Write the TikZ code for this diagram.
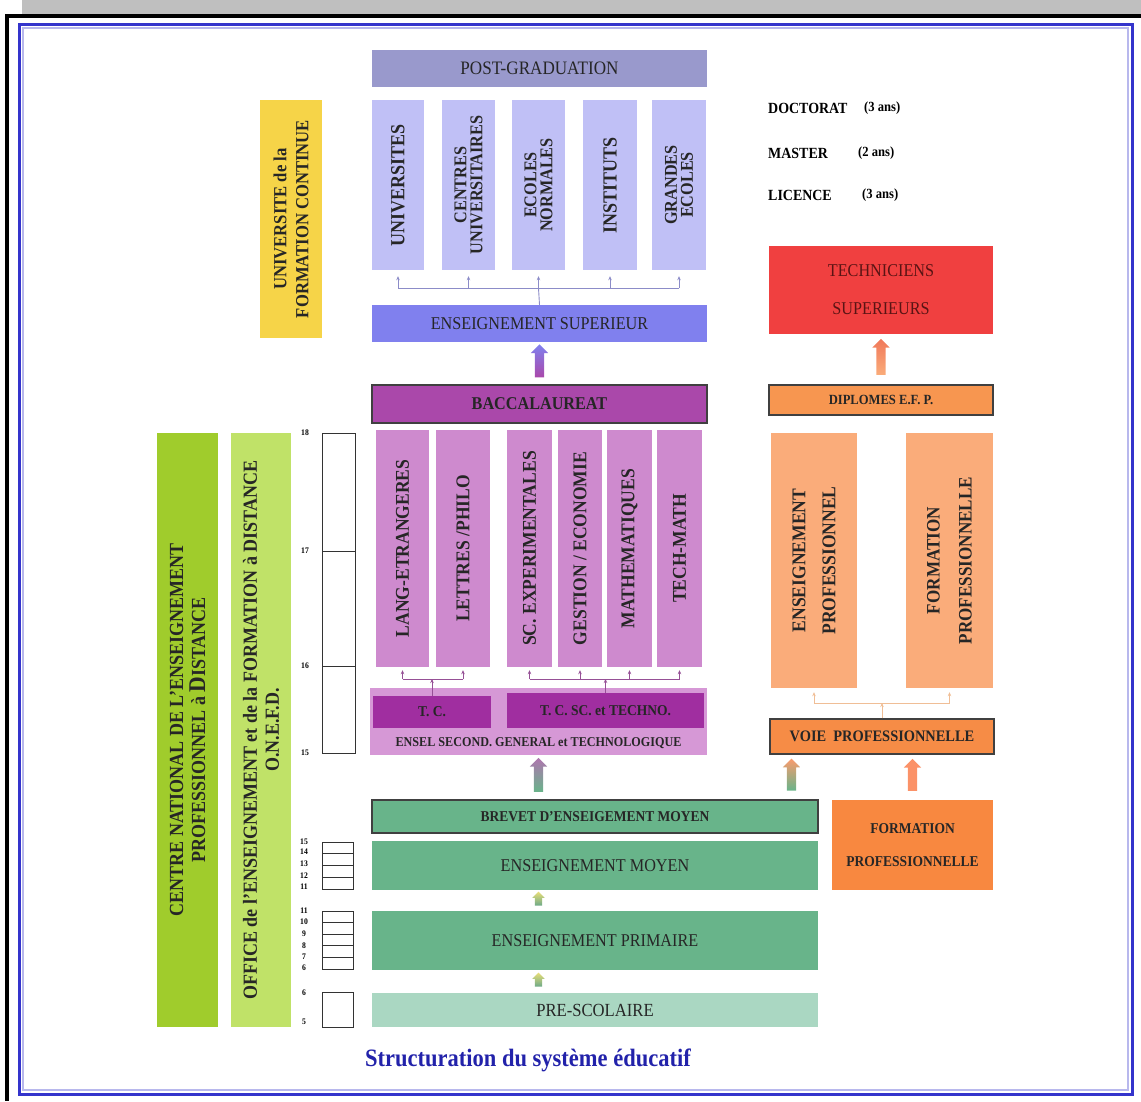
\documentclass[tikz,border=0pt]{standalone}
\usepackage{fontspec}
\setmainfont{Liberation Serif}[FakeStretch=0.9]
\usetikzlibrary{
  arrows.meta,
  calc,
  positioning,
  shapes.arrows
}
\definecolor{postg}{RGB}{153,153,204}
\definecolor{univ}{RGB}{192,192,246}
\definecolor{enssup}{RGB}{128,128,238}
\definecolor{jaune}{RGB}{246,212,72}
\definecolor{bac}{RGB}{170,72,170}
\definecolor{filiere}{RGB}{206,138,206}
\definecolor{ensel}{RGB}{214,152,214}
\definecolor{tronc}{RGB}{160,46,160}
\definecolor{rouge}{RGB}{240,64,64}
\definecolor{dipl}{RGB}{247,150,80}
\definecolor{profcol}{RGB}{250,172,122}
\definecolor{voie}{RGB}{246,140,70}
\definecolor{fprof}{RGB}{248,136,64}
\definecolor{vert}{RGB}{104,180,138}
\definecolor{vertclair}{RGB}{170,215,194}
\definecolor{centre}{RGB}{160,204,44}
\definecolor{office}{RGB}{192,226,104}
\definecolor{titre}{RGB}{34,34,170}
\definecolor{cadre}{RGB}{52,52,204}
\definecolor{lienbleu}{RGB}{140,140,200}
\definecolor{lienviolet}{RGB}{150,80,150}
\definecolor{lienorange}{RGB}{240,190,150}
\tikzset{
  bloc/.style={inner sep=0pt, align=center, text=black!85},
  boxed/.style={bloc, draw=black!75, line width=1.1pt},
  vbloc/.style={bloc, rotate=90},
  fleche/.style={single arrow, shape border rotate=90, inner sep=4.5pt,
    single arrow head extend=4pt, draw=none},
  petite/.style={fleche, inner sep=3.5pt, single arrow head extend=2.5pt, minimum height=14pt},
  lien/.style={-{Stealth[length=4pt,width=3.5pt]}, line width=0.9pt},
  agebox/.style={draw=black!80, line width=0.8pt},
  age/.style={font=\bfseries\fontsize{8.5}{8.5}\selectfont, inner sep=0pt},
  diplo/.style={font=\bfseries\fontsize{15.5}{15.5}\selectfont, inner sep=0pt, anchor=west}
}
\begin{document}
\begin{tikzpicture}[x=1pt, y=-1pt]
    \useasboundingbox (0,0) rectangle (1141,1101);

    % cadre
    \fill[black!25] (22,0) rectangle (1141,14);
    \draw[line width=3.5pt] (1141,16) -- (7,16) -- (7,1101);
    \draw[cadre!35, line width=2pt] (23,28) rectangle (1128,1090);
    \draw[cadre, line width=3pt] (19,24) rectangle (1132,1094);

    % enseignement superieur
    \node[bloc, fill=postg, minimum width=335pt, minimum height=37pt,
      font=\fontsize{19}{19}\selectfont] (postg) at (539.5,68.5) {POST-GRADUATION};
    \foreach \nom/\x/\w/\txt in {u1/398/52/{\fontsize{20}{20}\selectfont UNIVERSITES},
        u2/468.5/53/{CENTRES\\UNIVERSITAIRES},
        u3/538.5/53/{ECOLES\\NORMALES},
        u4/610/54/{\fontsize{20}{20}\selectfont INSTITUTS},
        u5/679/54/{GRANDES\\ECOLES}}
      \node[vbloc, fill=univ, minimum width=170pt, minimum height=\w pt,
        font=\bfseries\fontsize{18}{16}\selectfont] (\nom) at (\x,185) {\txt};
    \node[bloc, fill=enssup, minimum width=335pt, minimum height=37pt,
      font=\fontsize{18}{18}\selectfont] (sup) at (539.5,323.5) {ENSEIGNEMENT SUPERIEUR};
    \node[vbloc, fill=jaune, minimum width=238pt, minimum height=62pt,
      font=\bfseries\fontsize{18.5}{22}\selectfont] (ufc) at (291,219)
      {UNIVERSITE de la\\FORMATION CONTINUE};

    % liens vers les etablissements
    \coordinate (ubar) at (538.5,288);
    \draw[lienbleu, line width=0.9pt] (sup.north) -- (ubar);
    \draw[lienbleu, line width=0.9pt] (u1.west |- ubar) -- (u5.west |- ubar);
    \foreach \nom in {u1,u2,u3,u4,u5}
      \draw[lien, lienbleu, shorten >=6pt] (\nom.west |- ubar) -- (\nom.west);

    % diplomes
    \node[diplo] (doct) at (768,108) {DOCTORAT};
    \node[diplo, font=\bfseries\fontsize{14}{14}\selectfont] (doctd) at (864,108) {(3 ans)};
    \node[diplo] (mast) at (768,153) {MASTER};
    \node[diplo, font=\bfseries\fontsize{14}{14}\selectfont] (mastd) at (858,153) {(2 ans)};
    \node[diplo] (lic) at (768,195) {LICENCE};
    \node[diplo, font=\bfseries\fontsize{14}{14}\selectfont] (licd) at (862,195) {(3 ans)};

    % baccalaureat et filieres
    \node[boxed, fill=bac, minimum width=335pt, minimum height=38pt,
      font=\bfseries\fontsize{18}{18}\selectfont] (bac) at (539.5,404) {BACCALAUREAT};
    \path (bac.north) -- (sup.south) node[midway, fleche, minimum height=33pt,
      top color=enssup, bottom color=bac] (fsup) {};
    \foreach \nom/\x/\w/\txt in {lang/402.5/53/{LANG-ETRANGERES},
        lettres/463/54/{LETTRES /PHILO},
        scexp/529.5/45/{SC. EXPERIMENTALES},
        gestion/580/44/{GESTION / ECONOMIE},
        maths/629.5/45/{MATHEMATIQUES},
        techm/679.5/45/{TECH-MATH}}
      \node[vbloc, fill=filiere, minimum width=237pt, minimum height=\w pt,
        font=\bfseries\fontsize{19.5}{19.5}\selectfont] (\nom) at (\x,548.5) {\txt};

    % enseignement secondaire
    \node[bloc, fill=ensel, minimum width=337pt, minimum height=67pt] (ensel) at (538.5,721.5) {};
    \node[bloc, fill=tronc, minimum width=118pt, minimum height=32pt,
      font=\bfseries\fontsize{15}{15}\selectfont] (tc) at (432,712) {T. C.};
    \node[bloc, fill=tronc, minimum width=197pt, minimum height=35pt,
      font=\bfseries\fontsize{15}{15}\selectfont] (tcsc) at (605.5,710.5) {T. C. SC. et TECHNO.};
    \node[bloc, font=\bfseries\fontsize{13.5}{13.5}\selectfont] (enseltxt) at (538.5,743)
      {ENSEL SECOND. GENERAL et TECHNOLOGIQUE};

    % liens troncs communs
    \coordinate (lbar) at (432,679);
    \coordinate (rbar) at (605.5,679);
    \draw[lien, lienviolet] (tc.north) -- (lbar);
    \draw[lienviolet, line width=0.9pt] (lang.west |- lbar) -- (lettres.west |- lbar);
    \foreach \nom in {lang,lettres}
      \draw[lien, lienviolet, shorten >=3pt] (\nom.west |- lbar) -- (\nom.west);
    \draw[lien, lienviolet] (tcsc.north) -- (rbar);
    \draw[lienviolet, line width=0.9pt] (scexp.west |- rbar) -- (techm.west |- rbar);
    \foreach \nom in {scexp,gestion,maths,techm}
      \draw[lien, lienviolet, shorten >=3pt] (\nom.west |- rbar) -- (\nom.west);

    % voie professionnelle
    \node[bloc, fill=rouge, minimum width=224pt, minimum height=88pt, text={rgb,255:red,90;green,20;blue,20},
      font=\fontsize{18}{38}\selectfont] (tech) at (881,290) {TECHNICIENS\\SUPERIEURS};
    \node[boxed, fill=dipl, minimum width=224pt, minimum height=30pt,
      font=\bfseries\fontsize{14}{14}\selectfont] (dip) at (881,400) {DIPLOMES E.F. P.};
    \path (dip.north) -- (tech.south) node[midway, fleche, minimum height=36pt,
      top color={rgb,255:red,240;green,120;blue,90}, bottom color=profcol] (ftech) {};
    \node[vbloc, fill=profcol, minimum width=255pt, minimum height=86pt,
      font=\bfseries\fontsize{19.5}{30}\selectfont] (ep) at (814,560.5) {ENSEIGNEMENT\\PROFESSIONNEL};
    \node[vbloc, fill=profcol, minimum width=255pt, minimum height=87pt,
      font=\bfseries\fontsize{19}{32}\selectfont] (fp) at (949.5,560.5) {FORMATION\\PROFESSIONNELLE};
    \node[boxed, fill=voie, minimum width=224pt, minimum height=35pt,
      font=\bfseries\fontsize{16}{16}\selectfont] (voie) at (882,736.5) {VOIE\ \ PROFESSIONNELLE};
    \coordinate (obar) at (882,703);
    \draw[lien, lienorange] (voie.north) -- (obar);
    \draw[lienorange, line width=0.9pt] (ep.west |- obar) -- (fp.west |- obar);
    \foreach \nom in {ep,fp}
      \draw[lien, lienorange, shorten >=4pt] (\nom.west |- obar) -- (\nom.west);
    \node[bloc, fill=fprof, minimum width=161pt, minimum height=90pt,
      font=\bfseries\fontsize{15}{33}\selectfont] (fprof) at (912.5,845) {FORMATION\\PROFESSIONNELLE};

    % enseignement fondamental
    \node[boxed, fill=vert, minimum width=446pt, minimum height=33pt,
      font=\bfseries\fontsize{15}{15}\selectfont] (brevet) at (595,816.5) {BREVET D'ENSEIGEMENT MOYEN};
    \node[bloc, fill=vert, minimum width=446pt, minimum height=49pt,
      font=\fontsize{18}{18}\selectfont] (moyen) at (595,865.5) {ENSEIGNEMENT MOYEN};
    \node[bloc, fill=vert, minimum width=446pt, minimum height=59pt,
      font=\fontsize{18}{18}\selectfont] (prim) at (595,940.5) {ENSEIGNEMENT PRIMAIRE};
    \node[bloc, fill=vertclair, minimum width=446pt, minimum height=34pt,
      font=\fontsize{18.5}{18.5}\selectfont] (presco) at (595,1010) {PRE-SCOLAIRE};

    % grosses fleches
    \path (brevet.north -| ensel.south) -- (ensel.south) node[midway, fleche, minimum height=34pt,
      top color=filiere!85!black, bottom color=vert] (fensel) {};
    \path ($(voie.south west)+(22,0)$) coordinate (vg) (brevet.north -| vg) -- (vg)
      node[midway, fleche, minimum height=32pt, top color=profcol!90!red, bottom color=vert] (fvoie) {};
    \path (fprof.north) -- (fprof.north |- voie.south) node[midway, fleche, minimum height=32pt,
      fill=profcol!85!red] (fvoie2) {};
    \path (moyen.south -| ensel.south) -- (prim.north -| ensel.south) node[midway, petite,
      top color={rgb,255:red,232;green,222;blue,120}, bottom color=vert!80!gray] (fprim) {};
    \path (prim.south -| ensel.south) -- (presco.north -| ensel.south) node[midway, petite,
      top color={rgb,255:red,232;green,222;blue,120}, bottom color=vert!80!gray] (fpresco) {};

    % formation a distance
    \node[vbloc, fill=centre, minimum width=594pt, minimum height=61pt,
      font=\bfseries\fontsize{20}{22}\selectfont] (cnepd) at (187.5,730)
      {CENTRE NATIONAL DE L'ENSEIGNEMENT\\PROFESSIONNEL à {\fontsize{24}{22}\selectfont D}ISTANCE};
    \node[vbloc, fill=office, minimum width=594pt, minimum height=60pt,
      font=\bfseries\fontsize{20}{22}\selectfont] (onefd) at (261,730)
      {OFFICE de l'ENSEIGNEMENT et de la FORMATION à DISTANCE\\O.N.E.F.D.};

    % ages
    \draw[agebox] (322,433) rectangle (355,753);
    \foreach \y in {551,666}
      \draw[agebox] (322,\y) -- (355,\y);
    \foreach \a/\y in {18/433,17/551,16/666,15/753}
      \node[age] (a\a) at (305,\y) {\a};
    \draw[agebox] (322,842) rectangle (353,889);
    \foreach \y in {853.75,865.5,877.25}
      \draw[agebox] (322,\y) -- (353,\y);
    \foreach \a/\y in {15/842,14/852,13/864,12/876,11/887}
      \node[age] (b\a) at (304,\y) {\a};
    \draw[agebox] (322,911) rectangle (353,969);
    \foreach \y in {922.6,934.2,945.8,957.4}
      \draw[agebox] (322,\y) -- (353,\y);
    \foreach \a/\y in {11/911,10/922,9/934,8/946,7/957,6/968}
      \node[age] (c\a) at (304,\y) {\a};
    \draw[agebox] (322,992) rectangle (353,1027);
    \foreach \a/\y in {6/993,5/1022}
      \node[age] (d\a) at (304,\y) {\a};

    % titre
    \node[font=\bfseries\fontsize{25}{25}\selectfont, text=titre] (titre) at (528,1060)
      {Structuration du système éducatif};
\end{tikzpicture}
\end{document}
